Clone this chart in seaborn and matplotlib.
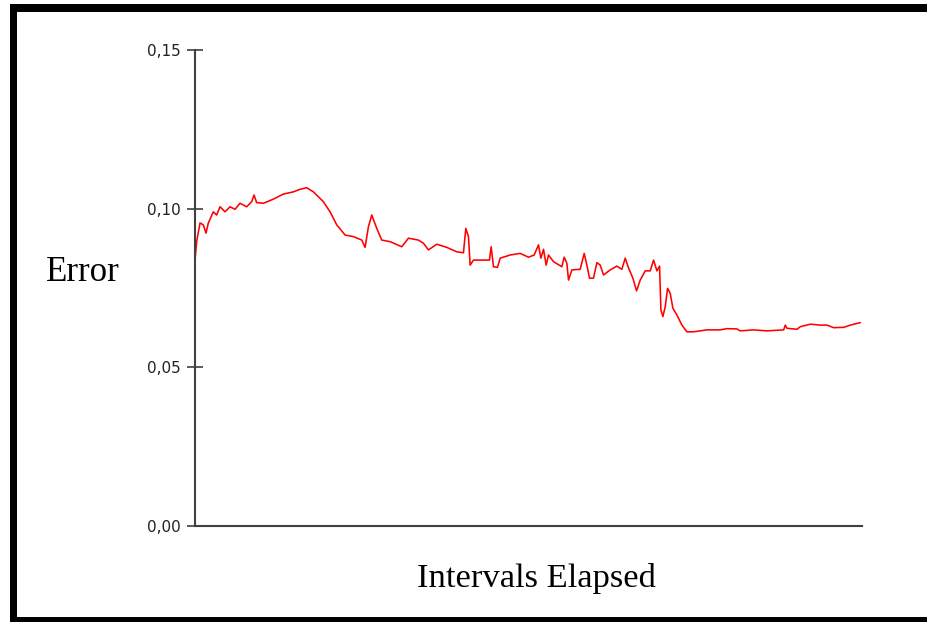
import matplotlib
matplotlib.use("Agg")
import matplotlib.pyplot as plt
from matplotlib.patches import Rectangle
import seaborn as sns
import pandas as pd

# Data (x: intervals elapsed, y: error)
intervals = [0, 2.5, 7.5, 12.5, 16.5, 20, 27.5, 32.5, 37.5, 45, 52.5, 60, 67.5, 77.5, 85, 88.5,
             92.5, 102.5, 117.5, 132.5, 147.5, 157.5, 167.5, 177.5, 192.5, 202.5, 212.5, 225,
             237.5, 250, 255, 260, 265, 272.5, 280, 292.5, 310, 320, 335, 342.5, 350, 362.5,
             377.5, 392.5, 402.5, 406, 410, 412.5, 417.5, 432.5, 441.5, 444, 447.5, 453.5,
             457.5, 472.5, 487.5, 500, 508.5, 515, 518.5, 522.5, 526.5, 530, 537.5, 550,
             553.5, 557.5, 560, 565, 577.5, 583.5, 587.5, 591.5, 597.5, 602.5, 607.5, 612.5,
             622.5, 632.5, 640, 645, 650, 656.5, 662, 667.5, 675, 682.5, 687.5, 692.5, 696.5,
             698.5, 701.5, 705, 708.5, 712.5, 716.5, 722.5, 730, 737.5, 747.5, 767.5, 787.5,
             797.5, 812.5, 817.5, 837.5, 857.5, 882.5, 885, 887.5, 902.5, 907.5, 922.5, 937.5,
             947.5, 957.5, 972.5, 982.5, 997.5]
error = [0.0838, 0.0896, 0.0955, 0.0949, 0.0923, 0.0955, 0.0990, 0.0980, 0.1006, 0.0990,
         0.1006, 0.0998, 0.1017, 0.1006, 0.1022, 0.1043, 0.1019, 0.1017, 0.1030, 0.1046,
         0.1053, 0.1061, 0.1066, 0.1053, 0.1022, 0.0990, 0.0949, 0.0917, 0.0912, 0.0901,
         0.0878, 0.0943, 0.0980, 0.0938, 0.0901, 0.0896, 0.0880, 0.0907, 0.0901, 0.0891,
         0.0870, 0.0888, 0.0878, 0.0864, 0.0861, 0.0938, 0.0912, 0.0822, 0.0838, 0.0838,
         0.0838, 0.0880, 0.0817, 0.0815, 0.0844, 0.0854, 0.0859, 0.0847, 0.0854, 0.0886,
         0.0844, 0.0872, 0.0822, 0.0854, 0.0833, 0.0817, 0.0847, 0.0828, 0.0775, 0.0807,
         0.0809, 0.0859, 0.0822, 0.0781, 0.0781, 0.0830, 0.0822, 0.0791, 0.0807, 0.0819,
         0.0809, 0.0844, 0.0813, 0.0781, 0.0741, 0.0775, 0.0804, 0.0804, 0.0838, 0.0804,
         0.0819, 0.0681, 0.0660, 0.0691, 0.0749, 0.0733, 0.0686, 0.0665, 0.0633, 0.0612,
         0.0612, 0.0618, 0.0618, 0.0622, 0.0621, 0.0615, 0.0618, 0.0615, 0.0618, 0.0633,
         0.0623, 0.0620, 0.0628, 0.0636, 0.0633, 0.0633, 0.0625, 0.0626, 0.0633, 0.0641]
y_ticks = [0.00, 0.05, 0.10, 0.15]
y_tick_labels = ["0,00", "0,05", "0,10", "0,15"]

df = pd.DataFrame({"Intervals": intervals, "Error": error})

sns.set_style("white")
plt.rcParams["font.family"] = ["DejaVu Sans"]

fig = plt.figure(figsize=(9.28, 6.22), dpi=100)
ax = fig.add_axes([195 / 928, 1 - 526 / 622, (862 - 195) / 928, (526 - 50) / 622])

sns.lineplot(data=df, x="Intervals", y="Error", ax=ax, color="#ff0000", linewidth=1.15)

ax.set_xlim(0, 1000)
ax.set_ylim(0, 0.15)
ax.set_yticks(y_ticks)
ax.set_yticklabels(y_tick_labels)
ax.set_xticks([])
ax.set_xlabel("")
ax.set_ylabel("")
for s in ["top", "right"]:
    ax.spines[s].set_visible(False)
for s in ["left", "bottom"]:
    ax.spines[s].set_color("#404040")
    ax.spines[s].set_linewidth(1.5)
ax.tick_params(axis="y", direction="inout", length=12, width=1.2, color="#404040",
               labelsize=11, labelcolor="#222222", pad=4.5, left=True)

fig.text(83 / 928, 1 - 272 / 622, "Error", family="Liberation Serif", fontsize=25,
         ha="center", va="center", color="black")
fig.text(536 / 928, 1 - 578 / 622, "Intervals Elapsed", family="Liberation Serif",
         fontsize=24.8, ha="center", va="center", color="black")

# black frame around the picture
for (x0, y0, x1, y1) in [(10, 4, 17, 622), (10, 4, 928, 12), (10, 617, 928, 622)]:
    fig.add_artist(Rectangle((x0 / 928, 1 - y1 / 622), (x1 - x0) / 928, (y1 - y0) / 622,
                             transform=fig.transFigure, facecolor="black",
                             edgecolor="none"))

fig.savefig("out.png", dpi=100, facecolor="white")
